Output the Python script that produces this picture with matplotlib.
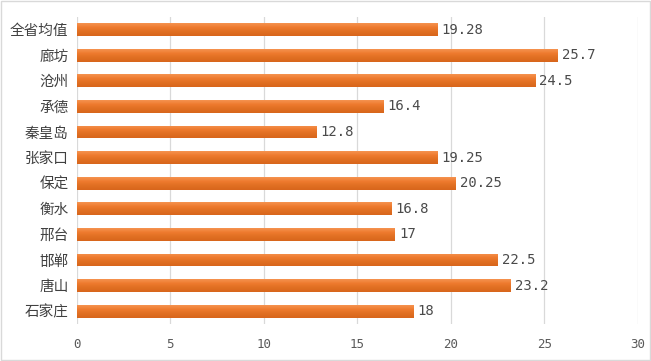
import matplotlib
matplotlib.use("Agg")
import matplotlib.pyplot as plt
import numpy as np
from matplotlib.patches import Rectangle
from matplotlib.colors import LinearSegmentedColormap

plt.rcParams['font.family'] = ['Noto Sans CJK SC', 'DejaVu Sans']

categories = ["全省均值", "廊坊", "沧州", "承德", "秦皇岛", "张家口", "保定", "衡水", "邢台", "邯郸", "唐山", "石家庄"]
values = [19.28, 25.7, 24.5, 16.4, 12.8, 19.25, 20.25, 16.8, 17, 22.5, 23.2, 18]
value_labels = ["19.28", "25.7", "24.5", "16.4", "12.8", "19.25", "20.25", "16.8", "17", "22.5", "23.2", "18"]
xticks = [0, 5, 10, 15, 20, 25, 30]

fig = plt.figure(figsize=(6.51, 3.61), dpi=100)
ax = fig.add_axes([0.118, 0.1025, 0.862, 0.851])

n = len(categories)
ypos = list(range(n))[::-1]
bars = ax.barh(ypos, values, height=0.5, color='#EE7A2E', edgecolor='none', zorder=3)

cmap = LinearSegmentedColormap.from_list('og', ['#F59350', '#EE7A2E', '#E06F22', '#D8661C'])
grad = np.linspace(0, 1, 64).reshape(-1, 1)
for b in bars:
    x0, y0 = b.get_x(), b.get_y()
    w, h = b.get_width(), b.get_height()
    im = ax.imshow(grad, cmap=cmap, aspect='auto', origin='upper',
                   extent=(x0, x0 + w, y0, y0 + h), zorder=4, interpolation='bilinear')
    im.set_clip_path(b)

for y, v, lab in zip(ypos, values, value_labels):
    ax.text(v + 0.22, y, lab, va='center', ha='left', fontsize=10,
            family='DejaVu Sans Mono', color='#4a4a4a', zorder=5)

ax.set_xlim(0, 30)
ax.set_ylim(-0.5, n - 0.5)
ax.set_yticks(ypos)
ax.set_yticklabels(categories, fontsize=10.5, color='#404040')
ax.set_xticks(xticks)
ax.set_xticklabels([str(t) for t in xticks], fontsize=9, family='DejaVu Sans Mono', color='#595959')
ax.tick_params(axis='y', length=0, pad=6)
ax.tick_params(axis='x', length=0, pad=10)
ax.xaxis.grid(True, color='#D9D9D9', linewidth=0.9, zorder=0)
for s in ax.spines.values():
    s.set_visible(False)

fig.patches.append(Rectangle((0.002, 0.003), 0.996, 0.994, transform=fig.transFigure,
                             fill=False, edgecolor='#D9D9D9', linewidth=1.0))
fig.savefig("out.png", dpi=100)
